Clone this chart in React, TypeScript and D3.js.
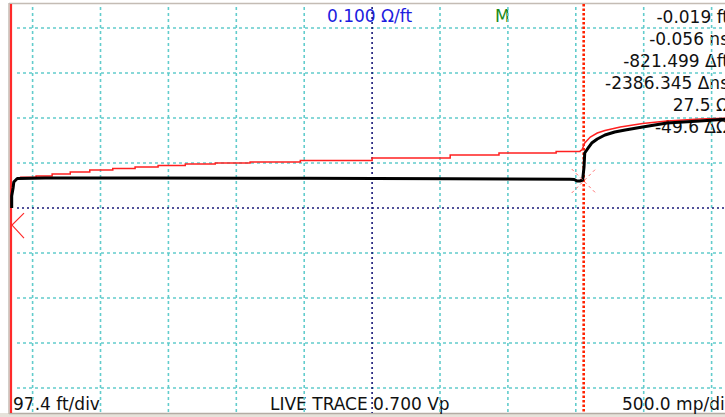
import React from "react";
import * as d3 from "d3";

// trace values: distance in ft, reflection in millirho
const blackFt = [1, 1, 3, 4, 9, 49, 199, 415, 630, 802, 808, 812, 816, 820, 822, 823, 828, 833, 841, 852, 866, 881, 906, 941, 988, 1030];
const blackRho = [0, 133, 222, 289, 328, 333, 333, 330, 324, 320, 317, 300, 300, 311, 456, 611, 667, 722, 767, 811, 844, 867, 900, 944, 967, 990];

const redStepFt = [13, 36, 59, 85, 113, 146, 178, 211, 250, 293, 343, 415, 518, 630, 700, 782, 816];
const redStepRho = [341, 356, 378, 400, 422, 439, 456, 472, 489, 500, 511, 528, 556, 589, 611, 628, 633];
const redRiseFt = [816, 819, 823, 831, 841, 852, 874, 906, 941, 988, 1030];
const redRiseRho = [633, 644, 722, 789, 833, 861, 900, 939, 967, 989, 1000];

const readouts = ["-0.019 ft", "-0.056 ns", "-821.499 \u0394ft", "-2386.345 \u0394ns", "27.5 \u03a9", "-49.6 \u0394\u03a9"];

const ftPerDiv = 97.4;
const rhoPerDiv = 500;
const centerFt = 518;
const cursorA = 0;
const cursorB = 821.5;
const cursorRho = 300;
const refRho = -190;

const W = 725;
const H = 417;
const font = "'DejaVu Sans', sans-serif";

export default function App() {
  const x = d3.scaleLinear().domain([0, ftPerDiv]).range([11, 11 + 67.9]);
  const y = d3.scaleLinear().domain([0, rhoPerDiv]).range([208, 163]);

  const divs = d3.range(-5, 6);
  const hdivs = d3.range(-4, 5);

  const black = d3.line<number>().x((d, i) => x(blackFt[i])).y((d) => y(d));
  const redStep = d3
    .line<number>()
    .x((d, i) => x(redStepFt[i]))
    .y((d) => y(d))
    .curve(d3.curveStepAfter);
  const redRise = d3.line<number>().x((d, i) => x(redRiseFt[i])).y((d) => y(d));

  const cx = x(cursorB);
  const cy = y(cursorRho);
  const ry = y(refRho);
  const x0 = x(cursorA);

  return (
    <svg
      width={W}
      height={H}
      style={{ position: "absolute", left: 0, top: 0, background: "#fff" }}
    >
      <defs>
        <clipPath id="plot">
          <rect x={9} y={3} width={W} height={410} />
        </clipPath>
      </defs>
      <rect x={0} y={413} width={W} height={4} fill="#e6e2da" />
      <line x1={9} x2={W} y1={3.5} y2={3.5} stroke="#c4bcb4" strokeWidth={1.5} />
      <line x1={9} x2={W} y1={413.5} y2={413.5} stroke="#b4aca4" strokeWidth={1.5} />
      <line x1={9} x2={9} y1={3} y2={414} stroke="#c4bcb4" strokeWidth={1.5} />

      <g fontFamily={font} fontSize={17}>
        <text x={327} y={22} fill="#1c1ce0">0.100 Ω/ft</text>
        <text x={495} y={22} fill="#1a8a1a">M</text>
        {readouts.map((t, i) => (
          <text key={t} x={729} y={23 + i * 22} textAnchor="end" fill="#111">
            {t}
          </text>
        ))}
        <text x={13} y={410} fill="#111">97.4 ft/div</text>
        <text x={270} y={410} fill="#111">LIVE TRACE 0.700 Vp</text>
        <text x={622} y={410} fill="#111">500.0 mp/div</text>
      </g>

      <g clipPath="url(#plot)">
        {divs
          .filter((k) => k !== 0)
          .map((k) => {
            const gx = x(centerFt + k * ftPerDiv);
            return (
              <line key={"v" + k} x1={gx} x2={gx} y1={7} y2={413} stroke="#62cccc" strokeWidth={1.6} strokeDasharray="3,3" />
            );
          })}
        {hdivs
          .filter((k) => k !== 0)
          .map((k) => {
            const gy = y(k * rhoPerDiv);
            return (
              <line key={"h" + k} x1={17} x2={W} y1={gy} y2={gy} stroke="#62cccc" strokeWidth={1.6} strokeDasharray="3,3" />
            );
          })}
        <line x1={x(centerFt)} x2={x(centerFt)} y1={7} y2={413} stroke="#1a1a78" strokeWidth={1.6} strokeDasharray="2,3" />
        <line x1={17} x2={W} y1={y(0)} y2={y(0)} stroke="#1a1a78" strokeWidth={1.6} strokeDasharray="2,3" />

        <line x1={x0} x2={x0} y1={4} y2={413} stroke="#ff2a2a" strokeWidth={2.2} />
        <line x1={cx} x2={cx} y1={4} y2={413} stroke="#ff2200" strokeWidth={2.6} strokeDasharray="2.5,2" />

        <path d={redStep(redStepRho) || ""} fill="none" stroke="#ff2020" strokeWidth={1.5} />
        <path d={redRise(redRiseRho) || ""} fill="none" stroke="#ff2020" strokeWidth={1.5} />
        <path d={black(blackRho) || ""} fill="none" stroke="#000" strokeWidth={3} strokeLinejoin="round" />

        <g stroke="#ff7070" strokeWidth={1} strokeDasharray="3,3">
          <line x1={cx - 12} x2={cx + 12} y1={cy - 12} y2={cy + 12} />
          <line x1={cx - 12} x2={cx + 12} y1={cy + 12} y2={cy - 12} />
        </g>
        <polyline
          points={`${x0 + 13},${ry - 12} ${x0 + 1},${ry} ${x0 + 13},${ry + 13}`}
          fill="none"
          stroke="#ff2a2a"
          strokeWidth={1.2}
        />
      </g>
    </svg>
  );
}
